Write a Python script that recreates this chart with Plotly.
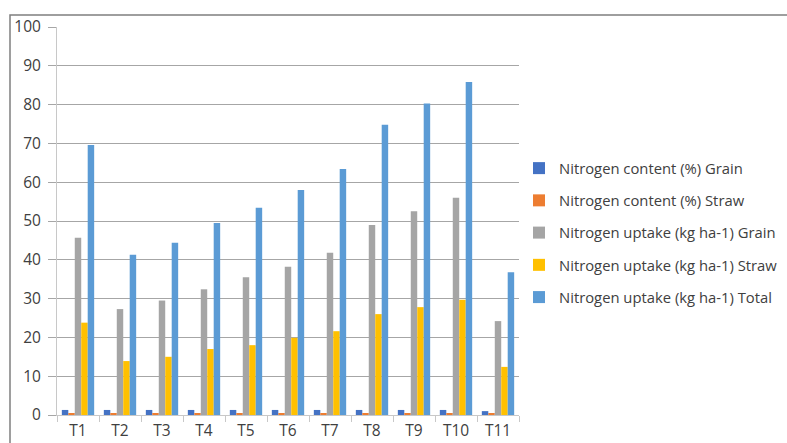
import plotly.graph_objects as go

treatments = ["T1", "T2", "T3", "T4", "T5", "T6", "T7", "T8", "T9", "T10", "T11"]

n_content_grain = [1.3, 1.3, 1.3, 1.3, 1.3, 1.3, 1.3, 1.3, 1.3, 1.3, 1.0]
n_content_straw = [0.45, 0.45, 0.45, 0.45, 0.45, 0.45, 0.45, 0.45, 0.45, 0.45, 0.4]
n_uptake_grain = [45.7, 27.3, 29.5, 32.4, 35.5, 38.2, 41.8, 49.0, 52.5, 56.0, 24.2]
n_uptake_straw = [23.8, 13.9, 15.0, 17.0, 18.0, 19.9, 21.6, 26.0, 27.8, 29.7, 12.4]
n_uptake_total = [69.6, 41.3, 44.4, 49.5, 53.4, 58.0, 63.4, 74.8, 80.3, 85.8, 36.8]

series = [
    ("Nitrogen content (%) Grain", n_content_grain, "#4472C4"),
    ("Nitrogen content (%) Straw", n_content_straw, "#ED7D31"),
    ("Nitrogen uptake (kg ha-1) Grain", n_uptake_grain, "#A5A5A5"),
    ("Nitrogen uptake (kg ha-1) Straw", n_uptake_straw, "#FFC000"),
    ("Nitrogen uptake (kg ha-1) Total", n_uptake_total, "#5B9BD5"),
]

fig = go.Figure()
for i, (name, vals, color) in enumerate(series):
    fig.add_trace(go.Bar(
        x=treatments, y=vals, name=name,
        marker=dict(color=color, line=dict(width=0)),
        legendgroup=f"g{i}",
    ))

W, H = 787, 443
L, R, T, B = 57, 268, 27, 28
plot_w = W - L - R
plot_h = H - T - B

family = "Open Sans, Noto Sans, sans-serif"
tick_font = dict(family=family, size=15.5, color="#404040")

fig.update_layout(
    width=W, height=H,
    margin=dict(l=L, r=R, t=T, b=B, pad=0, autoexpand=False),
    paper_bgcolor="white", plot_bgcolor="white",
    barmode="group", bargap=0.23, bargroupgap=0,
    font=tick_font,
    showlegend=True,
    legend=dict(
        x=(519 - L) / plot_w, xanchor="left",
        y=(415 - 233) / plot_h, yanchor="middle",
        font=dict(family=family, size=14.8, color="#404040"),
        tracegroupgap=10,
        bgcolor="rgba(0,0,0,0)",
        itemclick=False,
    ),
    xaxis=dict(
        type="category",
        showgrid=False,
        showline=True, linecolor="#c8c8c8", linewidth=1,
        ticks="outside", ticklen=6, tickcolor="#c8c8c8",
        tickson="boundaries",
        tickfont=tick_font,
        ticklabelstandoff=1,
        zeroline=False,
    ),
    yaxis=dict(
        range=[0, 100], dtick=10,
        showgrid=True, gridcolor="#a6a6a6", gridwidth=1,
        showline=True, linecolor="#c8c8c8", linewidth=1,
        ticks="outside", ticklen=8, tickcolor="#a6a6a6",
        tickfont=tick_font,
        ticklabelstandoff=4,
        zeroline=False,
    ),
)

# Chart frame (its right and bottom edges run past the canvas)
fig.add_shape(
    type="rect", xref="paper", yref="paper",
    x0=(10 - L) / plot_w, x1=(W + 20 - L) / plot_w,
    y0=(H - B - 15) / plot_h, y1=(H - B - (H + 20)) / plot_h,
    line=dict(color="#7f7f7f", width=1.5),
    fillcolor="rgba(0,0,0,0)", layer="above",
)

fig.write_html("out.html")
